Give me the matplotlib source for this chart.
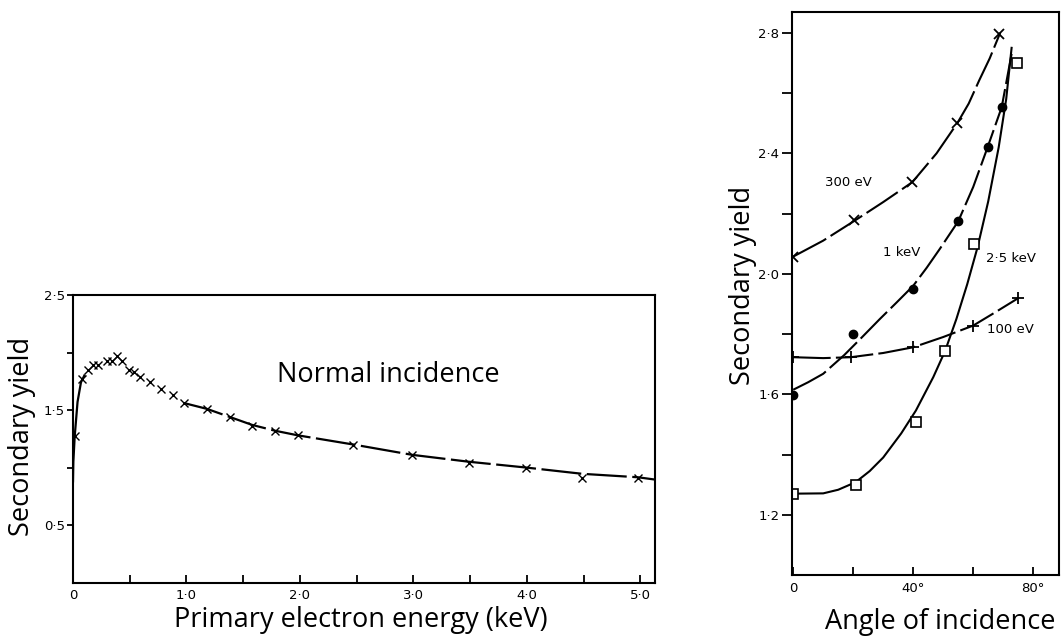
import matplotlib
matplotlib.use("Agg")
import matplotlib.pyplot as plt

# ---------------- data: left panel (normal incidence) ----------------
energy_pts = [0.018, 0.076, 0.135, 0.18, 0.22, 0.30, 0.34, 0.39, 0.43, 0.49, 0.54,
              0.59, 0.68, 0.78, 0.885, 0.98, 1.18, 1.38, 1.58, 1.78, 1.98, 2.47,
              2.99, 3.49, 3.99, 4.49, 4.98]
yield_pts = [1.27, 1.77, 1.85, 1.89, 1.89, 1.93, 1.93, 1.97, 1.93, 1.85, 1.83,
             1.79, 1.74, 1.68, 1.63, 1.56, 1.51, 1.44, 1.36, 1.32, 1.28, 1.20,
             1.11, 1.04, 1.00, 0.91, 0.91]
rise_x = [0.0, 0.003, 0.015, 0.04, 0.07, 0.1]
rise_y = [0.88, 1.05, 1.27, 1.57, 1.74, 1.80]
tail_x = [0.98, 1.18, 1.38, 1.58, 1.78, 1.98, 2.47, 2.99, 3.49, 3.99, 4.49, 4.98, 5.13]
tail_y = [1.56, 1.51, 1.44, 1.37, 1.32, 1.28, 1.20, 1.11, 1.05, 1.00, 0.945, 0.915, 0.895]
left_xticks = [0, 0.5, 1.0, 1.5, 2.0, 2.5, 3.0, 3.5, 4.0, 4.5, 5.0]
left_xticklabels = ["0", "", "1·0", "", "2·0", "", "3·0", "", "4·0", "", "5·0"]
left_yticks = [0.5, 1.0, 1.5, 2.0, 2.5]
left_yticklabels = ["0·5", "", "1·5", "", "2·5"]

# ---------------- data: right panel (angle of incidence) ----------------
a300 = [0, 20.3, 39.7, 54.7, 68.7]
y300 = [2.057, 2.177, 2.304, 2.50, 2.797]
c300_x = [0, 10, 20.3, 30, 39.7, 47.8, 54.7, 58.5, 62, 65.5, 69]
c300_y = [2.057, 2.11, 2.175, 2.238, 2.304, 2.40, 2.50, 2.565, 2.642, 2.715, 2.80]

a1k = [0, 20, 40, 55, 64.8, 69.5]
y1k = [1.597, 1.80, 1.95, 2.174, 2.42, 2.553]
c1k_x = [0, 5, 10, 17, 23, 28.9, 34.5, 40, 44.5, 48.9, 55, 60, 64.8, 69.5, 72.8]
c1k_y = [1.615, 1.64, 1.668, 1.73, 1.79, 1.85, 1.905, 1.96, 2.02, 2.083, 2.174, 2.288, 2.42, 2.553, 2.73]

a25k = [0, 20.8, 40.9, 50.6, 60.3, 74.7]
y25k = [1.269, 1.299, 1.507, 1.743, 2.10, 2.70]
c25k_x = [0, 10, 15, 20.8, 25.5, 30, 36, 40.9, 46.7, 50.6, 54.4, 58.0, 61.5, 65.0, 68.5, 71.0, 72.8]
c25k_y = [1.27, 1.271, 1.283, 1.308, 1.345, 1.39, 1.47, 1.546, 1.657, 1.743, 1.85, 1.965, 2.09, 2.24, 2.42, 2.58, 2.75]

a100 = [0, 19.2, 40, 60, 75]
y100 = [1.723, 1.723, 1.756, 1.828, 1.919]
c100_x = [0, 10, 19.2, 30, 40, 50, 60, 67, 75]
c100_y = [1.723, 1.72, 1.723, 1.737, 1.756, 1.79, 1.828, 1.87, 1.919]

right_xticks = [0, 20, 40, 60, 80]
right_xticklabels = ["0", "", "40°", "", "80°"]
right_yticks = [1.2, 1.4, 1.6, 1.8, 2.0, 2.2, 2.4, 2.6, 2.8]
right_yticklabels = ["1·2", "", "1·6", "", "2·0", "", "2·4", "", "2·8"]

series_labels = ["300 eV", "1 keV", "2·5 keV", "100 eV"]
label_pos = [(18.5, 2.304), (36.3, 2.072), (72.5, 2.05), (72.5, 1.814)]

# ---------------- figure ----------------
fig = plt.figure(figsize=(10.61, 6.38), dpi=100)
fig.patch.set_facecolor("white")
label_font = "Open Sans"
label_size = 19.5

# Left axes
axL = fig.add_axes([73 / 1061, 1 - 582.5 / 638, (655 - 73) / 1061, (582.5 - 295) / 638])
axL.set_xlim(0, 5.13)
axL.set_ylim(0, 2.5)
dash = (18, 2.5)
axL.plot(rise_x, rise_y, color="black", lw=1.6)
axL.plot(tail_x, tail_y, color="black", lw=1.6, dashes=dash)
axL.plot(energy_pts, yield_pts, linestyle="none", marker="x", color="black",
         markersize=6, markeredgewidth=1.0)
axL.set_xticks(left_xticks)
axL.set_xticklabels(left_xticklabels)
axL.set_yticks(left_yticks)
axL.set_yticklabels(left_yticklabels)
axL.tick_params(axis="x", direction="in", length=6, width=1.3, labelsize=9.5, pad=5)
axL.tick_params(axis="y", direction="out", length=4, width=1.3, labelsize=9.5, pad=2)
for s in axL.spines.values():
    s.set_linewidth(1.5)
axL.text(2.78, 1.8, "Normal incidence", fontsize=label_size, family=label_font,
         ha="center", va="center")
fig.text(361 / 1061, 1 - 620 / 638, "Primary electron energy (keV)", fontsize=label_size,
         family=label_font, ha="center", va="center")
fig.text(22 / 1061, 1 - 436 / 638, "Secondary yield", fontsize=label_size,
         family=label_font, ha="center", va="center", rotation=90)

# Right axes
axR = fig.add_axes([791.7 / 1061, 1 - 575 / 638, (1059 - 791.7) / 1061, (575 - 11.7) / 638])
axR.set_xlim(-0.5, 88.6)
axR.set_ylim(1.0, 2.87)
axR.plot(c300_x, c300_y, color="black", lw=1.5, dashes=dash)
axR.plot(c1k_x, c1k_y, color="black", lw=1.5, dashes=dash)
axR.plot(c25k_x, c25k_y, color="black", lw=1.5)
axR.plot(c100_x, c100_y, color="black", lw=1.5, dashes=dash)
axR.plot(a300, y300, linestyle="none", marker="x", color="black",
         markersize=6.5, markeredgewidth=1.3)
axR.plot(a1k, y1k, linestyle="none", marker="o", color="black", markersize=6)
axR.plot(a25k, y25k, linestyle="none", marker="s", markerfacecolor="white",
         markeredgecolor="black", markersize=7, markeredgewidth=1.2)
axR.plot(a100, y100, linestyle="none", marker="+", color="black",
         markersize=8, markeredgewidth=1.3)
for lab, (px, py) in zip(series_labels, label_pos):
    axR.text(px, py, lab, fontsize=9.5, ha="center", va="center", color="black")
axR.set_xticks(right_xticks)
axR.set_xticklabels(right_xticklabels)
axR.set_yticks(right_yticks)
axR.set_yticklabels(right_yticklabels)
axR.tick_params(axis="x", direction="in", length=6, width=1.3, labelsize=9.5, pad=5)
axR.tick_params(axis="y", direction="out", length=7, width=1.3, labelsize=9.5, pad=2)
for s in axR.spines.values():
    s.set_linewidth(1.5)
fig.text(940 / 1061, 1 - 622 / 638, "Angle of incidence", fontsize=label_size,
         family=label_font, ha="center", va="center")
fig.text(743 / 1061, 1 - 285 / 638, "Secondary yield", fontsize=label_size,
         family=label_font, ha="center", va="center", rotation=90)

fig.savefig("out.png", dpi=100, facecolor="white")
